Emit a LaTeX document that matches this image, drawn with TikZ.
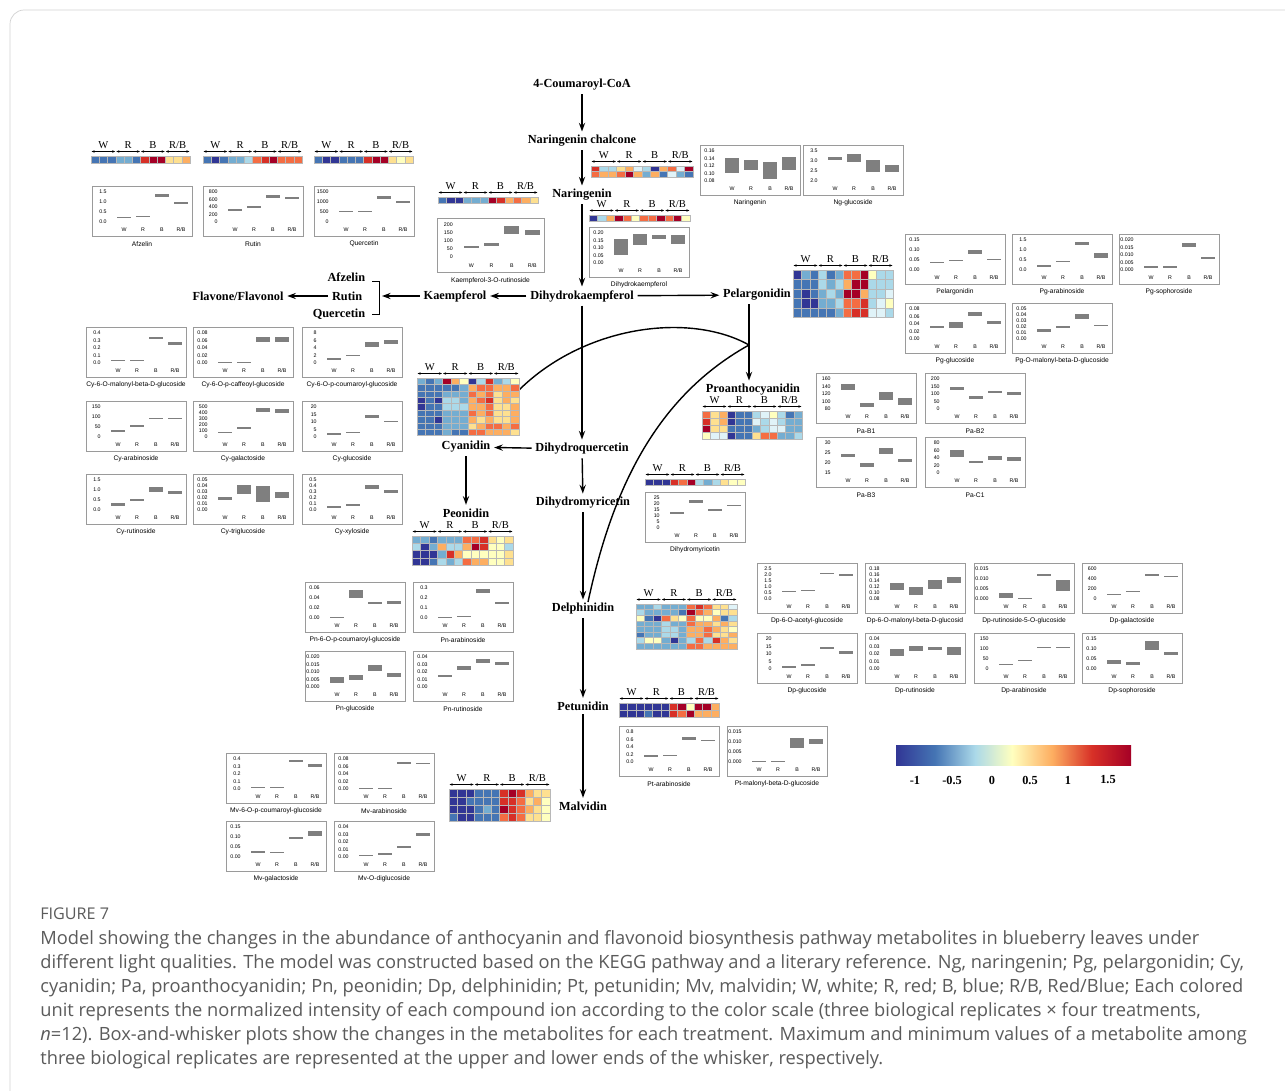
\documentclass[tikz,border=0pt]{standalone}
\usepackage{fontspec}
\setmainfont{Liberation Serif}
\setsansfont{Liberation Sans}
\newfontfamily\capfont{Open Sans}
\usetikzlibrary{positioning, arrows.meta}

\definecolor{hm0}{HTML}{313695}
\definecolor{hm1}{HTML}{4575B4}
\definecolor{hm2}{HTML}{74ADD1}
\definecolor{hm3}{HTML}{ABD9E9}
\definecolor{hm4}{HTML}{E0F3F8}
\definecolor{hm5}{HTML}{FFFFBF}
\definecolor{hm6}{HTML}{FEE090}
\definecolor{hm7}{HTML}{FDAE61}
\definecolor{hm8}{HTML}{F46D43}
\definecolor{hm9}{HTML}{D73027}
\definecolor{hma}{HTML}{A50026}
\definecolor{hmgrid}{HTML}{B8B8B8}
\definecolor{boxgray}{HTML}{7F7F7F}
\definecolor{framegray}{HTML}{9A9A9A}
\definecolor{capgray}{HTML}{5B5B5B}

% heat map: x, y, width, cell height, rows
\newcommand{\hmap}[5]{%
  \begin{scope}[shift={(#1,#2)}]
    \pgfmathsetmacro{\cw}{#3/12}
    \foreach \row [count=\j] in {#5} {
      \foreach \c [count=\i] in \row {
        \filldraw[fill=hm\c, draw=hmgrid, line width=0.15pt] ({(\i-1)*\cw},{(\j-1)*#4}) rectangle ++(\cw,#4);
      }
    }
    \foreach \lab [count=\k] in {W,R,B,R/B} {
      \draw[grp] ({(\k-1)*#3/4+0.5},-4.5) -- ({\k*#3/4-0.5},-4.5);
      \node[grplab] at ({(\k-0.5)*#3/4},-11) {\lab};
    }
  \end{scope}}

% box plot: [scale], name, x, y, title, ticks, boxes lo/hi
\newcommand{\bplot}[7][]{%
  \begin{scope}[shift={(#3,#4)}, #1]
    \draw[bframe] (0,0) rectangle (100,50);
    \foreach \tk [count=\k] in {#6} {\xdef\nticks{\k}}
    \foreach \tk [count=\k] in {#6} {
      \node[tick] at (15,{36-30*(\k-1)/(\nticks-1)}) {\tk};
    }
    \foreach \lo/\hi [count=\i] in {#7} {
      \fill[boxgray] ({6+19*\i},{36-30*\hi}) rectangle ({20+19*\i},{36-30*\lo});
    }
    \foreach \lab [count=\i] in {W,R,B,R/B}
      \node[cat] at ({13+19*\i},44) {\lab};
    \node[ptitle] (#2) at (50,58) {#5};
  \end{scope}}

\begin{document}
\begin{tikzpicture}[
    x=0.02cm, y=-0.02cm,
    comp/.style={font=\fontsize{7}{8}\selectfont\bfseries, inner sep=2pt},
    flow/.style={line width=0.8pt, -{Stealth[length=5pt,width=3.6pt,inset=1.8pt]}},
    link/.style={line width=0.8pt},
    grplab/.style={font=\fontsize{6}{6}\selectfont, inner sep=0pt},
    grp/.style={line width=0.3pt, {Stealth[length=1.8pt,width=1.4pt]}-{Stealth[length=1.8pt,width=1.4pt]}},
    bframe/.style={draw=framegray, line width=0.5pt},
    tick/.style={font=\sffamily\fontsize{3}{3}\selectfont, anchor=east, inner sep=0pt},
    cat/.style={font=\sffamily\fontsize{3}{3}\selectfont, inner sep=0pt},
    ptitle/.style={font=\sffamily\fontsize{3.8}{4}\selectfont, inner sep=0pt},
    barlab/.style={font=\fontsize{7}{8}\selectfont\bfseries, inner sep=0pt},
    caption/.style={font=\capfont\fontsize{10.4}{12}\selectfont, text=capgray, anchor=base west, inner sep=0pt},
]
\useasboundingbox (0,0) rectangle (1285,1091);
\clip (0,0) rectangle (1285,1091);
\fill[white] (0,0) rectangle (1285,1091);
\draw[gray!35, line width=0.4pt, rounded corners=8] (10,10) rectangle (1300,1110);

% pathway
\node[comp] (coa) at (582,85) {4-Coumaroyl-CoA};
\node[comp] (chal) at (582,141) {Naringenin chalcone};
\node[comp] (nar) at (582,195) {Naringenin};
\node[comp] (dhk) at (582,296) {Dihydrokaempferol};
\node[comp] (kae) at (455,296) {Kaempferol};
\node[comp, anchor=east] (afz) at (369,277) {Afzelin};
\node[comp, anchor=east] (rut) at (366,296) {Rutin};
\node[comp, anchor=east] (que) at (369,314) {Quercetin};
\node[comp] (flav) at (238,296) {Flavone/Flavonol};
\node[comp] (pel) at (757,295) {Pelargonidin};
\node[comp] (pro) at (753,390) {Proanthocyanidin};
\node[comp] (dhq) at (582,449) {Dihydroquercetin};
\node[comp] (cya) at (466,447) {Cyanidin};
\node[comp] (peo) at (466,513) {Peonidin};
\node[comp] (dhm) at (583,503) {Dihydromyricetin};
\node[comp] (del) at (583,609) {Delphinidin};
\node[comp] (pet) at (583,706) {Petunidin};
\node[comp] (mal) at (583,806) {Malvidin};

\coordinate (brk) at (382,296);
\coordinate (jn) at (749,345);
\coordinate (cyh) at (519,390);
\coordinate (dlc) at (588,602);

\draw[flow] (coa) -- (chal);
\draw[flow] (chal) -- (nar);
\draw[flow] (nar) -- (dhk);
\draw[flow] (dhk) -- (kae);
\draw[flow] (dhk) -- (pel);
\draw[flow] (dhk) -- (dhq);
\draw[flow] (kae) -- (brk);
\draw[flow] (rut) -- (flav);
\draw[flow] (dhq) -- (cya);
\draw[flow] (cya) -- (peo);
\draw[flow] (dhq) -- (dhm);
\draw[flow] (dhm) -- (del);
\draw[flow] (del) -- (pet);
\draw[flow] (pet) -- (mal);
\draw[line width=0.5pt] (372,281) -- (379,281) -- (379,314) -- (372,314);
\draw[link] (pel.south -| jn) -- (jn);
\draw[flow] (jn) -- (pro.north -| jn);
\draw[link] (cyh) .. controls (585,325) and (690,312) .. (jn);
\draw[link] (jn) .. controls (650,400) and (610,500) .. (dlc);

% heat maps
\hmap{91}{156}{99}{7}{{1,1,1,2,2,1,9,a,a,6,6,7}}
\hmap{203}{156}{99}{7}{{1,0,1,2,2,3,8,9,a,8,8,8}}
\hmap{314}{156}{99}{7}{{1,0,0,1,1,1,9,a,a,6,5,6}}
\hmap{591}{166}{102}{5.5}{{9,3,3,6,7,4,3,0,7,8,4,a},{8,7,7,8,a,7,2,7,1,4,2,1}}
\hmap{438}{197}{100}{6}{{1,0,0,2,2,2,a,9,7,8,7,6}}
\hmap{589}{215}{101}{6}{{0,3,7,a,8,5,8,8,a,8,a,5}}
\hmap{793}{270}{100}{9.5}{{0,2,1,3,1,2,8,8,a,5,3,3},{1,1,1,3,2,3,7,a,a,3,3,3},{1,0,1,2,3,2,a,a,7,3,3,4},{1,0,0,2,2,3,8,8,9,3,4,5},{1,1,1,1,1,2,8,9,9,4,4,3}}
\hmap{417}{378}{102}{6.4}{{2,1,2,a,7,5,0,3,9,2,3,5},{1,1,1,1,1,2,7,8,8,7,7,8},{1,1,1,2,2,2,8,7,8,6,7,7},{0,1,0,3,3,2,7,8,9,6,7,6},{0,1,1,3,3,3,7,7,8,6,6,7},{1,1,1,2,2,2,8,7,8,6,6,7},{1,1,0,2,2,2,7,6,7,6,6,7},{1,1,1,2,2,2,6,7,8,8,7,8},{1,1,1,2,1,1,8,8,7,7,7,6}}
\hmap{412}{536}{101}{7.3}{{2,2,1,2,2,2,8,8,9,6,5,6},{3,0,2,7,3,3,7,a,9,5,5,3},{0,0,0,2,9,7,5,5,5,5,5,6},{0,0,1,3,2,3,8,7,7,5,5,6}}
\hmap{702}{411}{100}{7}{{8,6,7,0,1,1,3,4,5,3,1,2},{9,6,7,0,1,1,4,3,4,3,2,2},{a,6,6,1,1,1,2,3,4,4,2,2},{5,4,4,0,1,1,6,8,8,2,2,3}}
\hmap{645}{479}{100}{6}{{0,0,0,9,8,a,3,2,3,6,5,5}}
\hmap{636}{604}{101}{5.6}{{2,2,3,2,2,2,8,9,8,6,6,4},{3,2,2,2,2,1,a,8,7,5,6,6},{5,1,0,8,6,5,8,5,5,7,1,3},{2,2,2,3,2,2,8,7,7,6,7,6},{2,2,2,3,3,2,7,7,8,7,6,5},{1,2,2,3,3,2,7,7,8,6,6,7},{3,5,5,2,0,2,3,8,3,9,7,6},{2,2,2,2,2,2,8,8,7,7,7,7}}
\hmap{619}{703}{100}{7}{{0,0,0,0,0,0,9,a,5,a,a,7},{0,0,0,1,0,0,9,8,a,7,7,7}}
\hmap{449}{789}{101}{8}{{0,0,0,1,1,1,9,a,9,7,6,6},{0,0,1,1,1,1,9,9,8,6,7,5},{0,0,0,1,2,1,a,9,8,7,6,5},{1,0,0,1,1,1,8,9,8,6,6,5}}

% box plots
\bplot{afzp}{92}{186}{Afzelin}{0.0,0.5,1.0,1.5}{0.15/0.18,0.18/0.2,0.83/0.93,0.6/0.65}
\bplot{rutp}{203}{186}{Rutin}{0,200,400,600,800}{0.375/0.425,0.475/0.54,0.8/0.91,0.775/0.825}
\bplot{quep}{314}{186}{Quercetin}{0,500,1000,1500}{0.32/0.37,0.33/0.36,0.77/0.85,0.63/0.69}
\bplot[xscale=1.07, yscale=1.08]{k3rp}{437}{218}{Kaempferol-3-O-rutinoside}{0,50,100,150,200}{0.275/0.35,0.35/0.43,0.7/0.95,0.68/0.83}
\bplot{dhkp}{589}{227}{Dihydrokaempferol}{0.00,0.05,0.10,0.15,0.20}{0.27/0.8,0.6/0.95,0.8/0.93,0.62/0.93}
\bplot{narp}{700}{145}{Naringenin}{0.08,0.10,0.12,0.14,0.16}{0.25/0.75,0.375/0.69,0.06/0.625,0.375/0.81}
\bplot{nggp}{803}{145}{Ng-glucoside}{2.0,2.5,3.0,3.5}{0.7/0.8,0.63/0.9,0.3/0.7,0.3/0.53}
\bplot{pelp}{905}{234}{Pelargonidin}{0.00,0.05,0.10,0.15}{0.22/0.27,0.29/0.33,0.53/0.67,0.32/0.35}
\bplot{pgap}{1012}{234}{Pg-arabinoside}{0.0,0.5,1.0,1.5}{0.1/0.15,0.27/0.31,0.83/0.93,0.4/0.57}
\bplot{pgsp}{1119}{234}{Pg-sophoroside}{0.000,0.005,0.010,0.015,0.020}{0.075/0.125,0.075/0.125,0.75/0.9,0.35/0.43}
\bplot{pggp}{905}{303}{Pg-glucoside}{0.00,0.02,0.04,0.06,0.08}{0.35/0.44,0.375/0.55,0.75/0.9,0.5/0.6}
\bplot{pgmp}{1012}{303}{Pg-O-malonyl-beta-D-glucoside}{0.00,0.01,0.02,0.03,0.04,0.05}{0.24/0.34,0.36/0.44,0.66/0.84,0.42/0.46}

\bplot{cy1}{86}{327}{Cy-6-O-malonyl-beta-D-glucoside}{0.0,0.1,0.2,0.3,0.4}{0.06/0.1,0.075/0.11,0.8/0.87,0.6/0.7}
\bplot{cy2}{193}{327}{Cy-6-O-p-caffeoyl-glucoside}{0.00,0.02,0.04,0.06,0.08}{0.0/0.03,0.0/0.03,0.69/0.88,0.69/0.88}
\bplot{cy3}{302}{327}{Cy-6-O-p-coumaroyl-glucoside}{0,2,4,6,8}{0.11/0.16,0.24/0.28,0.54/0.7,0.62/0.78}
\bplot{cy4}{86}{401}{Cy-arabinoside}{0,50,100,150}{0.17/0.22,0.35/0.39,0.61/0.65,0.6/0.64}
\bplot{cy5}{193}{401}{Cy-galactoside}{0,100,200,300,400,500}{0.12/0.16,0.27/0.33,0.82/0.96,0.8/0.92}
\bplot{cy6}{302}{401}{Cy-glucoside}{0,5,10,15,20}{0.06/0.125,0.125/0.175,0.625/0.75,0.49/0.55}
\bplot{cy7}{86}{474}{Cy-rutinoside}{0.0,0.5,1.0,1.5}{0.12/0.22,0.3/0.37,0.6/0.77,0.53/0.63}
\bplot{cy8}{193}{474}{Cy-triglucoside}{0.00,0.01,0.02,0.03,0.04,0.05}{0.34/0.44,0.54/0.84,0.26/0.8,0.4/0.6}
\bplot{cy9}{302}{474}{Cy-xyloside}{0.0,0.1,0.2,0.3,0.4,0.5}{0.06/0.12,0.12/0.2,0.7/0.82,0.58/0.68}

\bplot{pa1}{816}{373}{Pa-B1}{80,100,120,140,160}{0.65/0.85,0.06/0.19,0.31/0.56,0.15/0.375}
\bplot{pa2}{925}{373}{Pa-B2}{0,50,100,150,200}{0.625/0.75,0.35/0.425,0.54/0.6,0.475/0.56}
\bplot{pa3}{816}{437}{Pa-B3}{15,20,25,30}{0.53/0.63,0.2/0.33,0.63/0.83,0.37/0.47}
\bplot{pa4}{925}{437}{Pa-C1}{0,20,40,60,80}{0.525/0.775,0.34/0.39,0.43/0.56,0.41/0.525}
\bplot{dhmp}{645}{492}{Dihydromyricetin}{0,5,10,15,20,25}{0.48/0.54,0.84/0.94,0.58/0.64,0.72/0.78}

\bplot{pn1}{305}{582}{Pn-6-O-p-coumaroyl-glucoside}{0.00,0.02,0.04,0.06}{0.0/0.03,0.67/0.92,0.47/0.52,0.48/0.57}
\bplot{pn2}{413}{582}{Pn-arabinoside}{0.0,0.1,0.2,0.3}{0.02/0.05,0.05/0.08,0.83/0.97,0.47/0.53}
\bplot{pn3}{305}{651}{Pn-glucoside}{0.000,0.005,0.010,0.015,0.020}{0.15/0.35,0.25/0.4,0.55/0.75,0.35/0.475}
\bplot{pn4}{413}{651}{Pn-rutinoside}{0.00,0.01,0.02,0.03,0.04}{0.35/0.4,0.575/0.7,0.8/0.925,0.725/0.825}

\bplot{dp1}{757}{563}{Dp-6-O-acetyl-glucoside}{0.0,0.5,1.0,1.5,2.0,2.5}{0.24/0.28,0.26/0.3,0.82/0.88,0.76/0.82}
\bplot{dp2}{865}{563}{Dp-6-O-malonyl-beta-D-glucosid}{0.08,0.10,0.12,0.14,0.16,0.18}{0.3/0.55,0.15/0.4,0.35/0.65,0.55/0.75}
\bplot{dp3}{974}{563}{Dp-rutinoside-5-O-glucoside}{0.000,0.005,0.010,0.015}{0.03/0.2,0.0/0.03,0.77/0.83,0.27/0.63}
\bplot{dp4}{1082}{563}{Dp-galactoside}{0,200,400,600}{0.13/0.18,0.22/0.27,0.78/0.85,0.72/0.77}
\bplot{dp5}{757}{633}{Dp-glucoside}{0,5,10,15,20}{0.05/0.1,0.115/0.165,0.675/0.75,0.5/0.6}
\bplot{dp6}{865}{633}{Dp-rutinoside}{0.00,0.01,0.02,0.03,0.04}{0.425/0.675,0.6/0.775,0.625/0.75,0.475/0.75}
\bplot{dp7}{974}{633}{Dp-arabinoside}{0,50,100,150}{0.13/0.17,0.28/0.31,0.72/0.75,0.69/0.72}
\bplot{dp8}{1082}{633}{Dp-sophoroside}{0.00,0.05,0.10,0.15}{0.17/0.3,0.12/0.25,0.63/0.93,0.48/0.57}

\bplot{pt1}{619}{726}{Pt-arabinoside}{0.0,0.2,0.4,0.6,0.8}{0.175/0.225,0.19/0.25,0.75/0.85,0.7/0.725}
\bplot{pt2}{727}{726}{Pt-malonyl-beta-D-glucoside}{0.000,0.005,0.010,0.015}{0.0/0.025,0.0/0.025,0.47/0.8,0.6/0.77}

\bplot{mv1}{226}{753}{Mv-6-O-p-coumaroyl-glucoside}{0.0,0.1,0.2,0.3,0.4}{0.03/0.06,0.05/0.07,0.9/0.97,0.72/0.85}
\bplot{mv2}{334}{753}{Mv-arabinoside}{0.00,0.02,0.04,0.06,0.08}{0.0/0.025,0.0/0.025,0.85/0.9,0.83/0.88}
\bplot{mv3}{226}{821}{Mv-galactoside}{0.00,0.05,0.10,0.15}{0.13/0.2,0.12/0.17,0.6/0.67,0.7/0.87}
\bplot{mv4}{334}{821}{Mv-O-diglucoside}{0.00,0.01,0.02,0.03,0.04}{0.03/0.06,0.08/0.15,0.3/0.38,0.7/0.8}

% colour scale
\shade[left color=hm0, right color=hm1] (896,745) rectangle (935,765);
\shade[left color=hm1, right color=hm3] (935,745) rectangle (975,765);
\shade[left color=hm3, right color=hm5] (975,745) rectangle (1012,765);
\shade[left color=hm5, right color=hm7] (1012,745) rectangle (1052,765);
\shade[left color=hm7, right color=hm9] (1052,745) rectangle (1092,765);
\shade[left color=hm9, right color=hma] (1092,745) rectangle (1131,765);
\foreach \v/\px in {-1/915,-0.5/952,0/992,0.5/1030,1/1068,1.5/1108}
  \node[barlab] at (\px,780) {\v};

% caption
\node[caption, font=\capfont\fontsize{9.2}{11}\selectfont] (fig) at (40,919) {FIGURE 7};
\node[caption] (cap1) at (40,944) {Model showing the changes in the abundance of anthocyanin and flavonoid biosynthesis pathway metabolites in blueberry leaves under};
\node[caption] (cap2) at (40,968) {different light qualities. The model was constructed based on the KEGG pathway and a literary reference. Ng, naringenin; Pg, pelargonidin; Cy,};
\node[caption] (cap3) at (40,992) {cyanidin; Pa, proanthocyanidin; Pn, peonidin; Dp, delphinidin; Pt, petunidin; Mv, malvidin; W, white; R, red; B, blue; R/B, Red/Blue; Each colored};
\node[caption] (cap4) at (40,1016) {unit represents the normalized intensity of each compound ion according to the color scale (three biological replicates × four treatments,};
\node[caption] (cap5) at (40,1040) {\textit{n}=12). Box-and-whisker plots show the changes in the metabolites for each treatment. Maximum and minimum values of a metabolite among};
\node[caption] (cap6) at (40,1064) {three biological replicates are represented at the upper and lower ends of the whisker, respectively.};
\end{tikzpicture}
\end{document}
